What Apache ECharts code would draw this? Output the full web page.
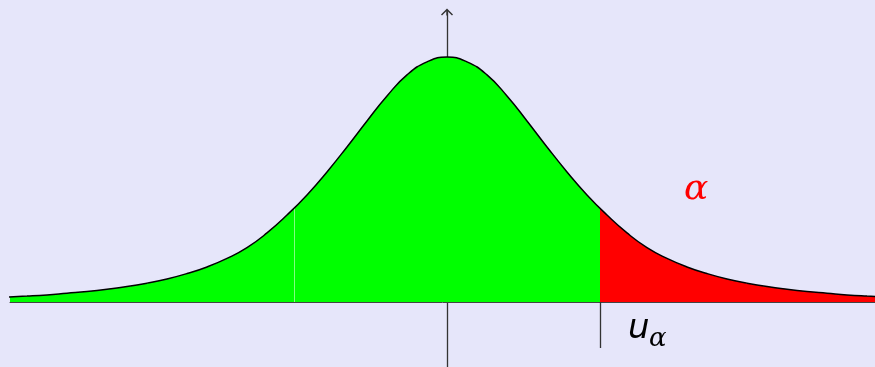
<!DOCTYPE html>
<html>
<head>
<meta charset="utf-8">
<title>u_alpha</title>
<script src="https://cdn.jsdelivr.net/npm/echarts@6.0.0/dist/echarts.min.js"></script>
<style>
    html, body { margin: 0; padding: 0; background: #e6e6fa; }
    #chart { width: 875px; height: 367px; }
</style>
</head>
<body>
<div id="chart"></div>
<script>
// 曲线上读出的点 (x 以 100px 为 1 个单位, 高度以峰值为 1)
var xValues = [-4.4, -4.2, -4.0, -3.8, -3.6, -3.4, -3.2, -3.0, -2.8, -2.6, -2.4, -2.2, -2.0, -1.8, -1.6, -1.53,
    -1.4, -1.2, -1.0, -0.8, -0.6, -0.4, -0.2, 0,
    0.2, 0.4, 0.6, 0.8, 1.0, 1.2, 1.4, 1.53,
    1.6, 1.8, 2.0, 2.2, 2.4, 2.6, 2.8, 3.0, 3.2, 3.4, 3.6, 3.8, 4.0, 4.2, 4.4];
var density = [0.020, 0.024, 0.029, 0.036, 0.043, 0.052, 0.063, 0.077, 0.094, 0.116, 0.143, 0.178, 0.222, 0.282, 0.355, 0.384,
    0.437, 0.531, 0.633, 0.739, 0.841, 0.927, 0.980, 1.000,
    0.980, 0.927, 0.841, 0.739, 0.633, 0.531, 0.437, 0.384,
    0.355, 0.282, 0.222, 0.178, 0.143, 0.116, 0.094, 0.077, 0.063, 0.052, 0.043, 0.036, 0.029, 0.024, 0.020];
var uAlpha = 1.53;       // 临界值位置
var seamX = -1.525;      // 左边填充的接缝
var tailLabel = 'α';
var critLabel = ['u', 'α'];

(function () {
    var myChart = echarts.init(document.getElementById('chart'));

    var curve = [], body = [], tail = [];
    var seamTop = 0;
    for (var i = 0; i < xValues.length; i++) {
        var p = [xValues[i], density[i]];
        // 黑线不用 ±u_α 两点, 免得出现折角
        if (Math.abs(xValues[i]) !== uAlpha) curve.push(p);
        if (xValues[i] <= uAlpha) body.push(p);
        if (xValues[i] >= uAlpha) tail.push(p);
        if (xValues[i] === -uAlpha) seamTop = density[i];
    }

    var option = {
        backgroundColor: '#e6e6fa',
        animation: false,
        grid: { left: 10, right: 0, top: 12, bottom: 0 },
        xAxis: {
            type: 'value',
            min: -4.37,
            max: 4.28,
            splitLine: { show: false },
            axisLine: { lineStyle: { color: '#444', width: 1 } },
            axisTick: {
                show: true,
                customValues: [uAlpha],
                length: 46,
                inside: false,
                lineStyle: { color: '#333', width: 1.3 }
            },
            axisLabel: { show: false }
        },
        yAxis: {
            type: 'value',
            min: -0.2653,
            max: 1.1837,
            splitLine: { show: false },
            axisTick: { show: false },
            axisLabel: { show: false },
            axisLine: {
                symbol: ['none', 'path://M6,0 L12,6 L11,7 L6.7,2.7 L6.7,7 L5.3,7 L5.3,2.7 L1,7 L0,6 Z'],
                symbolSize: [12, 7],
                lineStyle: { color: '#333', width: 1.3 }
            }
        },
        series: [
            {
                // 绿色部分
                type: 'line',
                data: body,
                smooth: true,
                symbol: 'none',
                lineStyle: { width: 0 },
                areaStyle: { color: '#00ff00', opacity: 1 },
                z: 2
            },
            {
                // 红色尾部 α
                type: 'line',
                data: tail,
                smooth: true,
                symbol: 'none',
                lineStyle: { width: 0 },
                areaStyle: { color: '#ff0000', opacity: 1 },
                z: 2
            },
            {
                type: 'line',
                data: [[seamX, 0], [seamX, seamTop]],
                symbol: 'none',
                silent: true,
                lineStyle: { color: '#80ff80', width: 1 },
                z: 3
            },
            {
                // 密度曲线
                type: 'line',
                data: curve,
                smooth: true,
                symbol: 'none',
                lineStyle: { color: '#000', width: 1.5 },
                z: 4
            }
        ],
        graphic: [
            {
                type: 'text',
                left: 684,
                top: 172,
                style: {
                    text: tailLabel,
                    fill: '#ff0000',
                    font: 'italic 36px "DejaVu Serif"'
                }
            },
            {
                type: 'text',
                left: 628,
                top: 312,
                style: {
                    text: critLabel[0],
                    fill: '#000',
                    font: 'italic 34px "DejaVu Sans"'
                }
            },
            {
                type: 'text',
                left: 649,
                top: 326,
                style: {
                    text: critLabel[1],
                    fill: '#000',
                    font: 'italic 26px "DejaVu Serif"'
                }
            }
        ]
    };
    myChart.setOption(option);
    window.addEventListener('resize', function () {
        myChart.resize();
    });
})();
</script>
</body>
</html>
